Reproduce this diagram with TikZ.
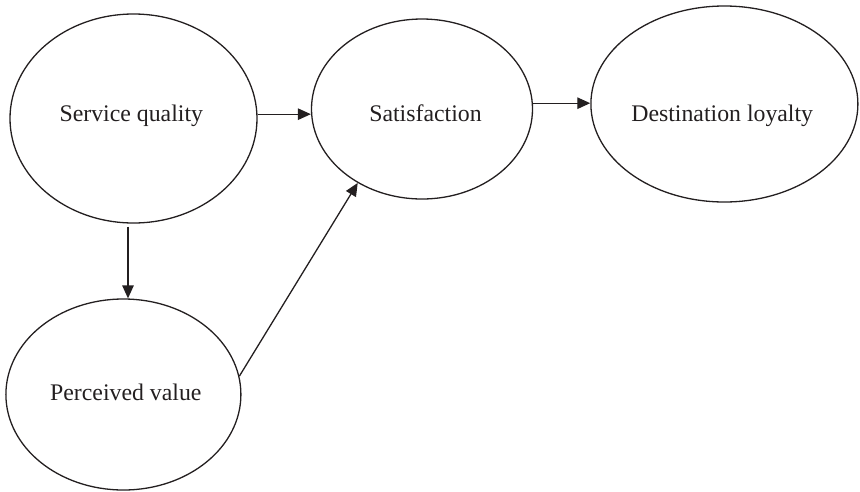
\documentclass[tikz,border=0pt]{standalone}
\usepackage{fontspec}
\setmainfont{Liberation Serif}
\usetikzlibrary{shapes.geometric,arrows.meta}
\definecolor{ink}{HTML}{231F20}
\begin{document}
\begin{tikzpicture}[x=1pt,y=-1pt,
  construct/.style={draw=ink,line width=1.3pt,ellipse,inner sep=0pt},
  caption/.style={anchor=base,text=ink,font=\fontsize{23.8}{28}\selectfont,inner sep=0pt},
  arr/.style={draw=ink,line width=1.3pt,-{Triangle[length=13pt,width=11.5pt]}}]
\useasboundingbox (0,0) rectangle (860,491);

% constructs
\node[construct,minimum width=247pt,minimum height=209pt] (sq) at (133.5,118.5) {};
\node[construct,minimum width=221pt,minimum height=180pt] (sat) at (422,109) {};
\node[construct,minimum width=267pt,minimum height=196pt] (dl) at (724.4,104) {};
\node[construct,minimum width=235pt,minimum height=191pt] (pv) at (123.4,394.5) {};

% labels
\node[caption] (sqtext) at (131.3,121) {Service quality};
\node[caption] (sattext) at (425.5,121) {Satisfaction};
\node[caption] (dltext) at (722.2,121.5) {Destination loyalty};
\node[caption] (pvtext) at (125.8,400.7) {Perceived value};

% paths
\draw[arr] (sq.2.5) -- (sq.2.5 -| sat.west);
\draw[arr] (sat.3.5) -- (sat.3.5 -| dl.west);
\draw[arr] ([yshift=-3pt]sq.267.2) -- (sq.267.2 |- pv.north);
\draw[arr] (pv.9.4) -- (sat.229);
\end{tikzpicture}
\end{document}
